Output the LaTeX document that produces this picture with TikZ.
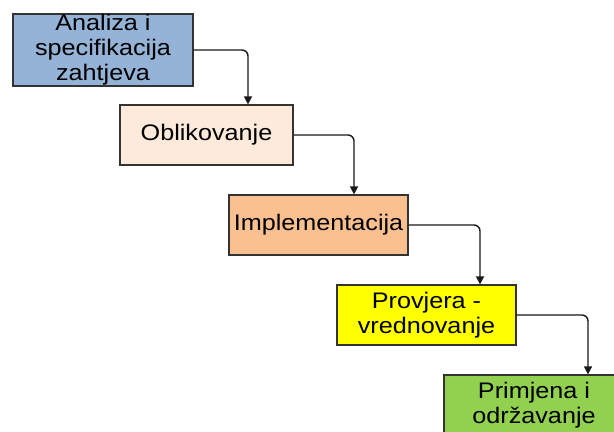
\documentclass[tikz,border=0pt]{standalone}
\usepackage{fontspec}
\setmainfont{Liberation Sans}[FakeStretch=1.12]
\usetikzlibrary{arrows.meta,positioning}
\definecolor{plavo}{HTML}{95B3D7}
\definecolor{breskva}{HTML}{FDEADA}
\definecolor{narancasto}{HTML}{FAC090}
\definecolor{zuto}{HTML}{FFFF00}
\definecolor{zeleno}{HTML}{92D050}
\tikzset{faza/.style={draw=black!80,line width=1.2bp,inner sep=0pt,align=center,
    minimum height=60bp,font=\fontsize{22.5bp}{25bp}\selectfont},
  tok/.style={draw=black!90,line width=1.4bp,rounded corners=6bp,-{Triangle[length=8bp,width=8bp]}}}
\begin{document}
\begin{tikzpicture}[x=1bp,y=-1bp]
\useasboundingbox (0,0) rectangle (614,431);
\clip (0,0) rectangle (614,431);
    \node[faza,fill=plavo,minimum width=180bp,minimum height=72bp](analiza) at (103,50) {Analiza i\\specifikacija\\zahtjeva};
    \node[faza,fill=breskva,minimum width=173bp](oblikovanje) at (206.5,135) {Oblikovanje};
    \node[faza,fill=narancasto,minimum width=179bp](implementacija) at (318.5,225) {Implementacija};
    \node[faza,fill=zuto,minimum width=179bp](provjera) at (426.5,315) {Provjera -\\vrednovanje};
    \node[faza,fill=zeleno,minimum width=180bp](primjena) at (534,405) {Primjena i\\održavanje};
    \draw[tok](analiza.east)-|([xshift=41.5bp]oblikovanje.north);
    \draw[tok](oblikovanje.east)-|([xshift=35.5bp]implementacija.north);
    \draw[tok](implementacija.east)-|([xshift=53.5bp]provjera.north);
    \draw[tok](provjera.east)-|([xshift=54bp]primjena.north);
\end{tikzpicture}
\end{document}
